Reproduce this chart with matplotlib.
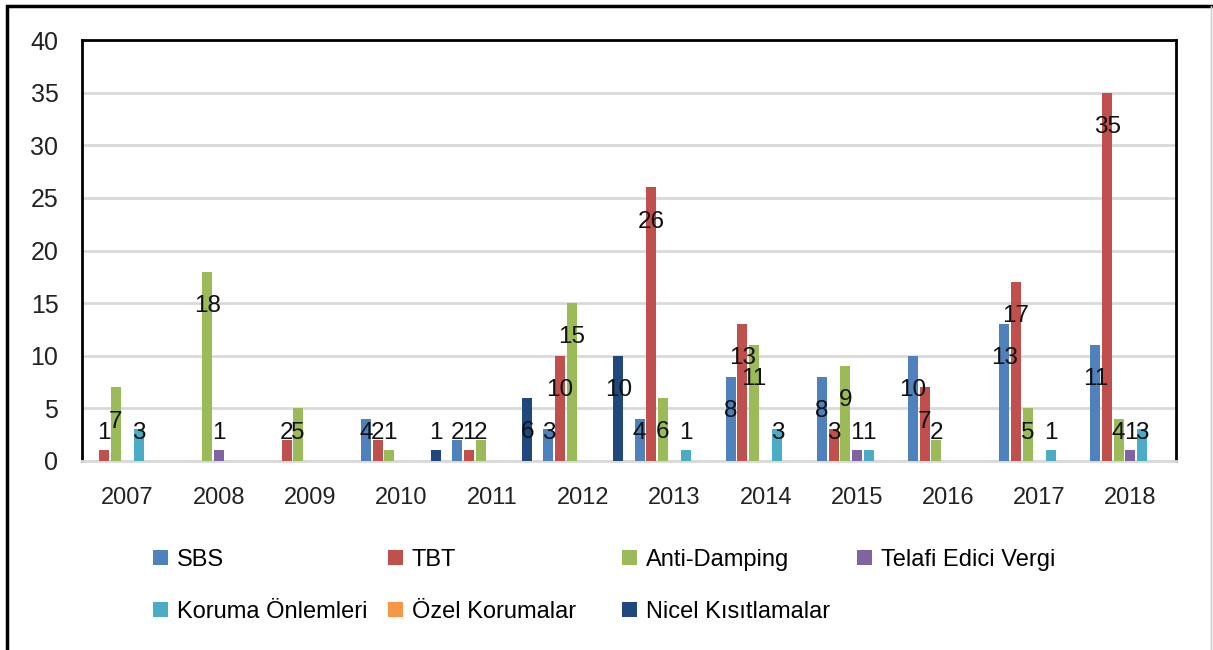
import matplotlib
matplotlib.use("Agg")
import matplotlib.pyplot as plt
from matplotlib.patches import Patch, Rectangle
import numpy as np

plt.rcParams['font.family'] = ['Liberation Sans', 'DejaVu Sans']

years = ["2007", "2008", "2009", "2010", "2011", "2012", "2013", "2014", "2015", "2016", "2017", "2018"]
series_names = ["SBS", "TBT", "Anti-Damping", "Telafi Edici Vergi",
                "Koruma Önlemleri", "Özel Korumalar", "Nicel Kısıtlamalar"]
sbs = [0, 0, 0, 4, 2, 3, 4, 8, 8, 10, 13, 11]
tbt = [1, 0, 2, 2, 1, 10, 26, 13, 3, 7, 17, 35]
anti_damping = [7, 18, 5, 1, 2, 15, 6, 11, 9, 2, 5, 4]
telafi = [0, 1, 0, 0, 0, 0, 0, 0, 1, 0, 0, 1]
koruma = [3, 0, 0, 0, 0, 0, 1, 3, 1, 0, 1, 3]
ozel = [0, 0, 0, 0, 0, 0, 0, 0, 0, 0, 0, 0]
nicel = [0, 0, 0, 1, 6, 10, 0, 0, 0, 0, 0, 0]
colors = ["#4F81BD", "#C0504D", "#9BBB59", "#8064A2", "#4BACC6", "#F79646", "#1F497D"]

data = [sbs, tbt, anti_damping, telafi, koruma, ozel, nicel]

fig = plt.figure(figsize=(12.13, 6.5), dpi=100)
ax = fig.add_axes([82/1213, 1-461/650, (1176-82)/1213, (461-40)/650])

x = np.arange(len(years))
slot = 0.128
width = 0.11
for i, (vals, c) in enumerate(zip(data, colors)):
    pos = x + (i - 3) * slot
    vals = np.array(vals, dtype=float)
    ax.bar(pos, vals, width=width, color=c, zorder=3)
    for p, v in zip(pos, vals):
        if v > 0:
            ax.text(p, max(v - 3.25, 2.7), f"{int(v)}", ha='center', va='center',
                    fontsize=17.5, color='#111111', zorder=4)

ax.set_xlim(-0.5, len(years) - 0.5)
ax.set_ylim(0, 40)
ax.set_yticks(range(0, 41, 5))
ax.set_xticks(x)
ax.set_xticklabels(years)
ax.tick_params(axis='both', length=0, colors='#222222')
ax.tick_params(axis='x', pad=19, labelsize=17)
ax.tick_params(axis='y', pad=17, labelsize=18)
ax.grid(axis='y', color='#d9d9d9', linewidth=2, zorder=0)
for s in ['top', 'left', 'right']:
    ax.spines[s].set_color('black')
    ax.spines[s].set_linewidth(2)
ax.spines['bottom'].set_color('#d9d9d9')
ax.spines['bottom'].set_linewidth(2)

# legend entries placed in an equal-width grid
leg_pos = [(153, 560), (388, 560), (622, 560), (857, 560),
           (153, 612), (388, 612), (622, 612)]
for name, c, (lx, ly) in zip(series_names, colors, leg_pos):
    fig.legend(handles=[Patch(facecolor=c, edgecolor='none', label=name)],
               loc='center left', bbox_to_anchor=(lx/1213, 1-ly/650),
               frameon=False, fontsize=17, handlelength=0.62, handleheight=0.62,
               handletextpad=0.38, borderpad=0, borderaxespad=0)

# outer frame
fig.patches.append(Rectangle((7/1213, -0.01), 1.2, 1-6/650+0.01, transform=fig.transFigure,
                             fill=False, edgecolor='black', linewidth=2.5))
fig.patches.append(Rectangle((1211/1213, -0.01), 0.0, 1-6/650+0.01, transform=fig.transFigure,
                             fill=False, edgecolor='#d0d0d0', linewidth=1))

fig.savefig("out.png", dpi=100)
